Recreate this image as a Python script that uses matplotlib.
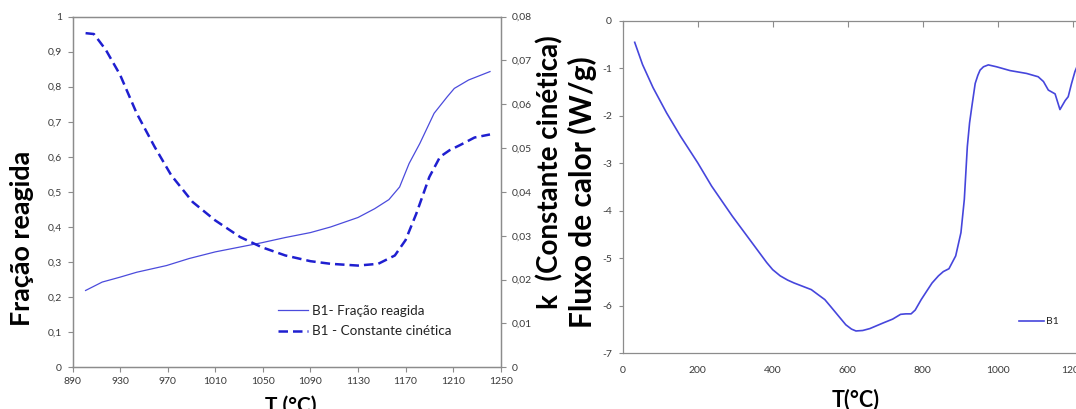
import matplotlib
matplotlib.use("Agg")
import matplotlib.pyplot as plt
from matplotlib.ticker import FixedLocator, FuncFormatter

plt.rcParams['font.family'] = ['Lato', 'DejaVu Sans']

# ---- Left panel: reacted fraction and kinetic constant vs temperature ----
temp_frac = [901, 915, 930, 944, 969, 988, 1010, 1031, 1049, 1069, 1090, 1107,
             1130, 1144, 1156, 1165, 1173, 1182, 1194, 1205, 1211, 1223, 1241]
frac = [0.219, 0.243, 0.257, 0.271, 0.290, 0.310, 0.329, 0.343, 0.355, 0.370,
        0.384, 0.400, 0.427, 0.452, 0.478, 0.514, 0.581, 0.638, 0.724, 0.771,
        0.795, 0.819, 0.843]

temp_k = [901, 908, 918, 930, 944, 959, 973, 991, 1010, 1031, 1049, 1069, 1090,
          1107, 1130, 1147, 1161, 1170, 1179, 1190, 1199, 1207, 1216, 1228, 1241]
k_const = [0.0762, 0.0760, 0.0724, 0.0667, 0.0579, 0.0503, 0.0438, 0.0377,
           0.0335, 0.0297, 0.0274, 0.0255, 0.0242, 0.0236, 0.0232, 0.0236,
           0.0255, 0.0290, 0.0350, 0.0434, 0.0480, 0.0495, 0.0507, 0.0524,
           0.0531]

x_ticks_left = [890, 930, 970, 1010, 1050, 1090, 1130, 1170, 1210, 1250]
y_ticks_left = [0, 0.1, 0.2, 0.3, 0.4, 0.5, 0.6, 0.7, 0.8, 0.9, 1.0]
y_ticks_k = [0, 0.01, 0.02, 0.03, 0.04, 0.05, 0.06, 0.07, 0.08]

# ---- Right panel: DSC heat flow ----
temp_dsc = [32, 53, 81, 117, 154, 200, 237, 292, 338, 384, 400, 420, 440, 457,
            480, 503, 520, 539, 555, 576, 595, 610, 622, 640, 659, 695, 720,
            741, 755, 769, 780, 796, 810, 825, 842, 855, 870, 888, 902, 911,
            919, 925, 931, 940, 947, 953, 962, 975, 997, 1033, 1077, 1108,
            1122, 1135, 1153, 1166, 1180, 1188, 1197, 1206, 1215]
heat_flow = [-0.455, -0.925, -1.41, -1.94, -2.43, -2.99, -3.48, -4.11, -4.60,
             -5.09, -5.24, -5.37, -5.46, -5.52, -5.59, -5.66, -5.76, -5.87,
             -6.02, -6.22, -6.40, -6.49, -6.53, -6.52, -6.48, -6.36, -6.28,
             -6.18, -6.17, -6.17, -6.09, -5.87, -5.70, -5.52, -5.37, -5.28,
             -5.22, -4.95, -4.46, -3.76, -2.65, -2.15, -1.81, -1.32, -1.15,
             -1.04, -0.97, -0.93, -0.97, -1.05, -1.11, -1.18, -1.28, -1.46,
             -1.54, -1.87, -1.68, -1.60, -1.32, -1.07, -0.90]

x_ticks_right = [0, 200, 400, 600, 800, 1000, 1200]
y_ticks_right = [0, -1, -2, -3, -4, -5, -6, -7]

W, H = 1076, 409
fig = plt.figure(figsize=(W / 100, H / 100), dpi=100)


def px_axes(left, top, right, bottom):
    return fig.add_axes([left / W, 1 - bottom / H, (right - left) / W, (bottom - top) / H])


def comma(v, _pos=None):
    return ('%g' % round(v, 4)).replace('.', ',')


spine_col = '#8c8c8c'
tick_col = '#3a3a3a'
tick_fs = 7.5

# Left axes
ax1 = px_axes(72.5, 16.5, 500.7, 367.3)
ax1.plot(temp_frac, frac, color='#4b4bdc', lw=0.9, label='B1- Fração reagida')
ax1.set_xlim(890, 1250)
ax1.set_ylim(0, 1)
ax1.xaxis.set_major_locator(FixedLocator(x_ticks_left))
ax1.yaxis.set_major_locator(FixedLocator(y_ticks_left))
ax1.yaxis.set_major_formatter(FuncFormatter(comma))
ax1.tick_params(axis='both', direction='out', length=3.3, width=0.8,
                color=spine_col, labelsize=tick_fs, labelcolor=tick_col)
ax1.tick_params(axis='x', pad=4)
ax1.tick_params(axis='y', pad=4.3)

ax1b = ax1.twinx()
ax1b.plot(temp_k, k_const, color='#1f1fd0', lw=1.8, dashes=(3.8, 2.0),
          label='B1 - Constante cinética')
ax1b.set_ylim(0, 0.08)
ax1b.yaxis.set_major_locator(FixedLocator(y_ticks_k))
ax1b.yaxis.set_major_formatter(FuncFormatter(comma))
ax1b.tick_params(axis='y', direction='out', length=3.3, width=0.8,
                 color=spine_col, labelsize=tick_fs, labelcolor=tick_col, pad=4.8)

for a in (ax1, ax1b):
    for s in a.spines.values():
        s.set_color(spine_col)
        s.set_linewidth(0.9)

h1, l1 = ax1.get_legend_handles_labels()
h2, l2 = ax1b.get_legend_handles_labels()
leg = ax1b.legend(h1 + h2, l1 + l2, loc='upper left',
                  bbox_to_anchor=(278.3 / W, 1 - 305 / H),
                  bbox_transform=fig.transFigure, frameon=False, fontsize=9.7,
                  handlelength=2.2, handletextpad=0.3, borderpad=0,
                  borderaxespad=0, labelspacing=0.62)
for t in leg.get_texts():
    t.set_color('#222222')

# Right axes (extends past the figure edge)
ax2 = px_axes(622.7, 20.7, 622.7 + 1400 * 0.375, 353.3)
ax2.plot(temp_dsc, heat_flow, color='#4646dc', lw=1.2, label='B1')
ax2.set_xlim(0, 1400)
ax2.set_ylim(-7, 0)
ax2.xaxis.set_major_locator(FixedLocator(x_ticks_right))
ax2.yaxis.set_major_locator(FixedLocator(y_ticks_right))
ax2.xaxis.set_major_formatter(FuncFormatter(lambda v, p: '%d' % v))
ax2.yaxis.set_major_formatter(FuncFormatter(lambda v, p: '%d' % v))
ax2.tick_params(axis='x', direction='in', length=4, width=0.8, color=spine_col,
                bottom=False, top=True, labelbottom=True, labeltop=False,
                labelsize=tick_fs, labelcolor=tick_col, pad=9.5)
ax2.tick_params(axis='y', direction='out', length=3, width=0.8, color=spine_col,
                labelsize=tick_fs, labelcolor=tick_col, pad=4.8)
for s in ax2.spines.values():
    s.set_color(spine_col)
    s.set_linewidth(0.9)
leg2 = ax2.legend(loc='center left', bbox_to_anchor=(1019 / W, 1 - 321.7 / H),
                  bbox_transform=fig.transFigure, frameon=False, fontsize=7.5,
                  handlelength=2.4, handletextpad=0.2, borderpad=0,
                  borderaxespad=0)
for t in leg2.get_texts():
    t.set_color('#222222')

# Axis titles
bold = dict(fontweight='bold', color='black')
fig.text(22.5 / W, 1 - 238.7 / H, 'Fração reagida', rotation=90,
         ha='center', va='center', fontsize=19.4, **bold)
fig.text(550 / W, 1 - 172 / H, 'k  (Constante cinética)', rotation=90,
         ha='center', va='center', fontsize=20, **bold)
fig.text(582.5 / W, 1 - 192 / H, 'Fluxo de calor (W/g)', rotation=90,
         ha='center', va='center', fontsize=21.5, **bold)
fig.text(291 / W, 1 - 396 / H, 'T (°C)', ha='center', va='top',
         fontsize=15, **bold)
fig.text(856 / W, 1 - 389 / H, 'T(°C)', ha='center', va='top',
         fontsize=15.5, **bold)

fig.savefig('out.png', dpi=100)
